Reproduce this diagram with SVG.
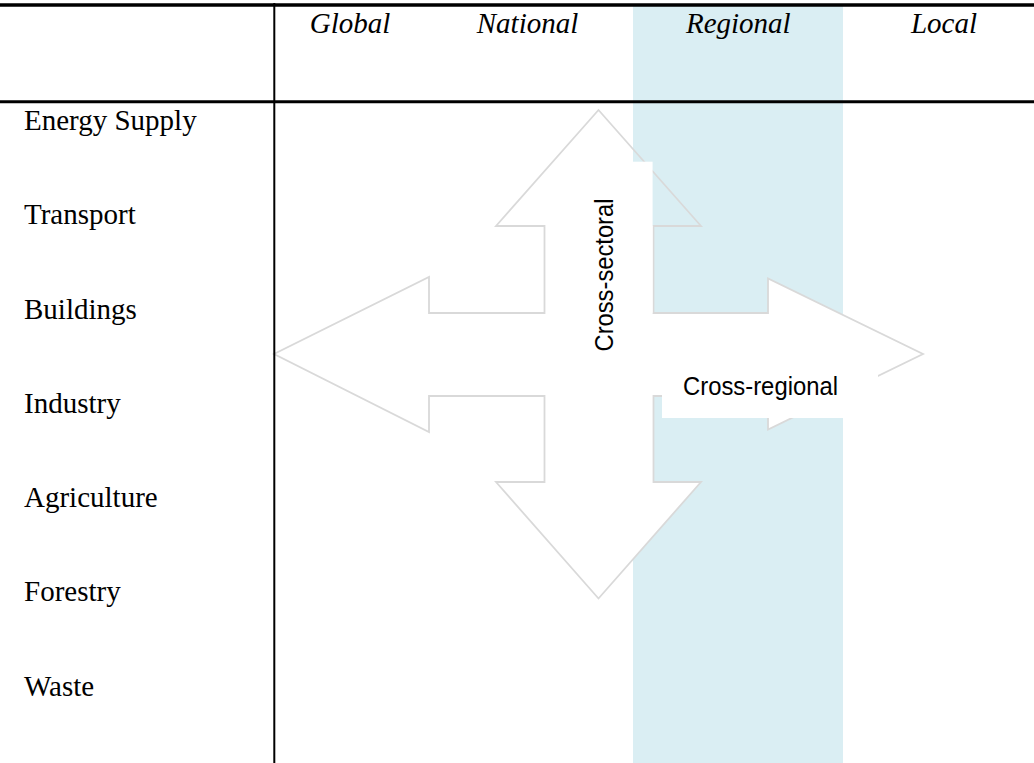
<svg xmlns="http://www.w3.org/2000/svg" width="1034" height="763" viewBox="0 0 1034 763">
  <style>
    .hdr { font-family: "Liberation Serif", "Times New Roman", serif; font-style: italic; font-size: 29px; fill: #000; text-anchor: middle; }
    .row { font-family: "Liberation Serif", "Times New Roman", serif; font-size: 29px; fill: #000; }
    .lbl { font-family: "Liberation Sans", Arial, sans-serif; font-size: 25px; fill: #000; text-anchor: middle; }
    .rule { stroke: #000; fill: none; }
    .outline { fill: none; stroke: #D9D9D9; stroke-width: 1.8; stroke-linejoin: miter; }
  </style>
  <rect width="1034" height="763" fill="#FFFFFF"/>

  <!-- Regional column shading -->
  <rect id="regional-band" x="633" y="6" width="210" height="757" fill="#DAEEF3"/>

  <!-- Four-way arrow -->
  <g id="arrows">
    <polygon id="cross-fill" fill="#FFFFFF" stroke="none"
      points="598.5,110 701,226 653.5,226 653.5,313 768,313 768,278.5 923,354 768,429.5 768,396 653.5,396 653.5,482 701,482 598.5,598.5 496,482 544.5,482 544.5,396 429,396 429,432 274,354 429,277 429,313 544.5,313 544.5,226 496,226"/>
    <rect x="633" y="103" width="210" height="123" fill="#DAEEF3"/>
    <polygon class="outline"
      points="598.5,110 701,226 653.5,226 653.5,313 768,313 768,278.5 923,354 768,429.5 768,396 653.5,396 653.5,482 701,482 598.5,598.5 496,482 544.5,482 544.5,396 429,396 429,432 274,354 429,277 429,313 544.5,313 544.5,226 496,226"/>
  </g>

  <g id="node-cross-sectoral">
    <rect x="590" y="161.7" width="62.6" height="151" fill="#FFFFFF"/>
    <text class="lbl" transform="translate(613,275) rotate(-90)" x="0" y="0" textLength="153" lengthAdjust="spacingAndGlyphs">Cross-sectoral</text>
  </g>

  <g id="node-cross-regional">
    <rect x="662" y="345" width="216" height="73" fill="#FFFFFF"/>
    <text class="lbl" x="760.5" y="395" textLength="155" lengthAdjust="spacingAndGlyphs">Cross-regional</text>
  </g>

  <!-- Table rules -->
  <g id="table-rules">
    <line class="rule" x1="0" y1="5" x2="1034" y2="5" stroke-width="3.5"/>
    <line class="rule" x1="0" y1="101.7" x2="1034" y2="101.7" stroke-width="3"/>
    <line class="rule" x1="274.3" y1="3" x2="274.3" y2="763" stroke-width="2"/>
  </g>

  <!-- Column headers -->
  <g id="node-global"><text class="hdr" x="350" y="33.3">Global</text></g>
  <g id="node-national"><text class="hdr" x="527.5" y="33.3">National</text></g>
  <g id="node-regional"><text class="hdr" x="738.3" y="33.3">Regional</text></g>
  <g id="node-local"><text class="hdr" x="944" y="33.3">Local</text></g>

  <!-- Row labels -->
  <g id="node-energy-supply"><text class="row" x="24" y="130">Energy Supply</text></g>
  <g id="node-transport"><text class="row" x="24" y="224">Transport</text></g>
  <g id="node-buildings"><text class="row" x="24" y="318.5">Buildings</text></g>
  <g id="node-industry"><text class="row" x="24" y="413">Industry</text></g>
  <g id="node-agriculture"><text class="row" x="24" y="507">Agriculture</text></g>
  <g id="node-forestry"><text class="row" x="24" y="601">Forestry</text></g>
  <g id="node-waste"><text class="row" x="24" y="695.5">Waste</text></g>
</svg>
